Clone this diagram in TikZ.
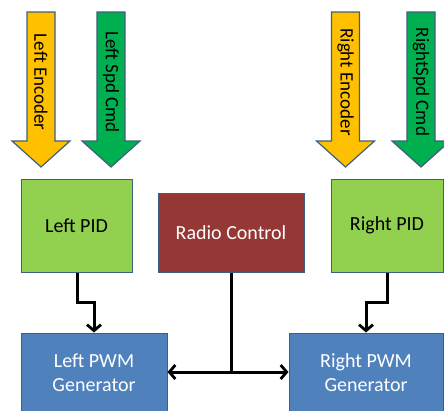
\documentclass[tikz,border=0pt]{standalone}
\usepackage{fontspec}
\setmainfont{Carlito}
\usetikzlibrary{arrows.meta}
\definecolor{yel}{HTML}{FFC000}
\definecolor{grn}{HTML}{00B050}
\definecolor{lgrn}{HTML}{92D050}
\definecolor{dred}{HTML}{953735}
\definecolor{blu}{HTML}{4F81BD}
\definecolor{edge}{HTML}{3F5F80}
\tikzset{
  box/.style={draw=edge, line width=1pt, inner sep=0pt, font=\fontsize{20}{24}\selectfont, align=center},
  bigarrow/.style={draw=edge, line width=1.2pt, line join=miter},
  conn/.style={line width=3pt, -{Straight Barb[length=6pt,width=14pt,line width=2.8pt]}},
  lbl/.style={rotate=-90, font=\fontsize{19}{22}\selectfont, inner sep=0pt},
}
\begin{document}
\begin{tikzpicture}[x=1pt,y=-1pt]
\useasboundingbox (0,0) rectangle (444,410);
% boxes
\node[box, fill=lgrn, minimum width=111pt, minimum height=93pt] (lpid) at (76.5,225.5) {Left PID};
\node[box, fill=lgrn, minimum width=112pt, minimum height=93pt] (rpid) at (387,225.5) {Right PID};
\node[box, fill=dred, text=white, minimum width=146pt, minimum height=79pt] (radio) at (231,232.5) {Radio Control};
\node[box, fill=blu, text=white, minimum width=146pt, minimum height=80pt] (lpwm) at (94,373) {Left PWM\\Generator};
\node[box, fill=blu, text=white, minimum width=154pt, minimum height=80pt] (rpwm) at (366,373) {Right PWM\\Generator};
% big input arrows
\foreach \nm/\cx/\col/\txt in {le/41/yel/Left Encoder, ls/111/grn/Left Spd Cmd, re/345.5/yel/Right Encoder, rs/421/grn/RightSpd Cmd}{
  \draw[bigarrow, fill=\col] (\cx-14,12) -- (\cx+14,12) -- (\cx+14,141) -- (\cx+29,141) -- (\cx,167) -- (\cx-29,141) -- (\cx-14,141) -- cycle;
  \node[lbl] (\nm) at (\cx,82) {\txt};
}
% connectors
\coordinate (lbend) at (77,302);
\draw[conn] (lpid.south -| lbend) -- (lbend) -| (lpwm.north);
\coordinate (rbend) at (387,302);
\draw[conn] (rpid.south -| rbend) -- (rbend) -| (rpwm.north);
\coordinate (junc) at (231,372);
\draw[line width=3pt] (radio.south -| junc) -- (junc);
\draw[conn] (junc) -- (lpwm.east |- junc);
\draw[conn] (junc) -- (rpwm.west |- junc);
\end{tikzpicture}
\end{document}
